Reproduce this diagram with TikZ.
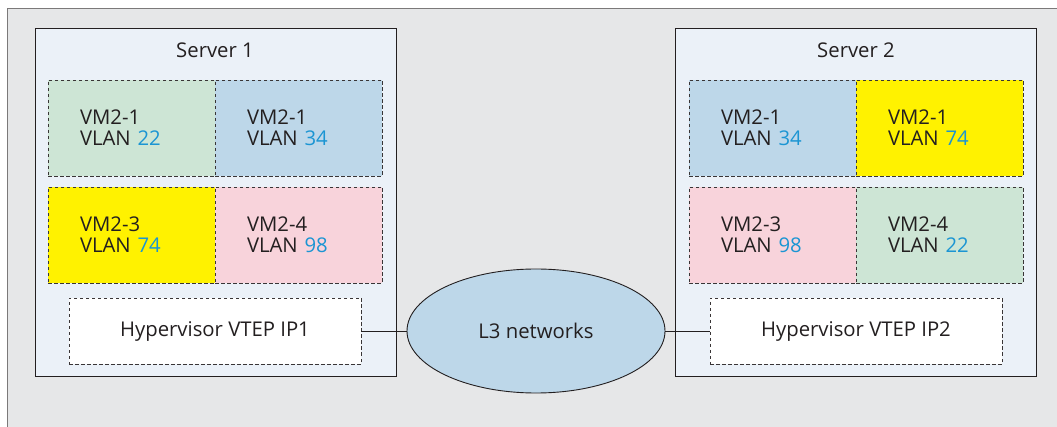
\documentclass[tikz,border=0pt]{standalone}
\usepackage{fontspec}
\setmainfont{Open Sans}
\usepackage{tikz}
\usetikzlibrary{positioning, shapes.geometric}
\definecolor{bggray}{HTML}{E6E7E8}
\definecolor{srvfill}{HTML}{EBF1F8}
\definecolor{vmgreen}{HTML}{CDE5D5}
\definecolor{vmblue}{HTML}{BDD7E9}
\definecolor{vmyellow}{HTML}{FFF200}
\definecolor{vmpink}{HTML}{F8D3DB}
\definecolor{numblue}{HTML}{1B95D3}
\definecolor{inkgray}{HTML}{231F20}
\newcommand{\vlan}[2]{#1\\VLAN \textcolor{numblue}{#2}}
\tikzset{
  srvbox/.style={draw=inkgray, line width=0.9pt, fill=srvfill, minimum width=361pt, minimum height=348pt, inner sep=0pt},
  vmbox/.style={draw=inkgray!90, line width=0.8pt, dash pattern=on 3.5pt off 2.5pt, minimum width=167pt, minimum height=96pt,
    text width=103pt, inner xsep=32pt, inner ysep=0pt, align=left},
  hvbox/.style={draw=inkgray!90, line width=0.8pt, fill=white, dash pattern=on 3.5pt off 2.5pt, minimum width=292pt, minimum height=66pt, inner sep=0pt},
}

\begin{document}
\begin{tikzpicture}[x=1pt, y=-1pt, font=\fontsize{20.3}{21}\selectfont, text=inkgray]
\useasboundingbox (0,0) rectangle (1057,427);
\clip (0,0) rectangle (1057,427);
\draw[fill=bggray, draw=inkgray!60, line width=0.9pt] (7,8) rectangle (1070,440);

% server 1
\node[srvbox] (srvA) at (215.5,202) {};
\node (srvAname) at (215,50) {Server 1};
\node[vmbox, fill=vmgreen] (vmAa) at (131.5,128) {\vlan{VM2-1}{22}};
\node[vmbox, fill=vmblue] (vmAb) at (298.5,128) {\vlan{VM2-1}{34}};
\node[vmbox, fill=vmyellow] (vmAc) at (131.5,235) {\vlan{VM2-3}{74}};
\node[vmbox, fill=vmpink] (vmAd) at (298.5,235) {\vlan{VM2-4}{98}};
\node[hvbox] (hvA) at (215,331) {Hypervisor VTEP IP1};

% server 2
\node[srvbox] (srvB) at (856,202) {};
\node (srvBname) at (856,50) {Server 2};
\node[vmbox, fill=vmblue] (vmBa) at (772.5,128) {\vlan{VM2-1}{34}};
\node[vmbox, fill=vmyellow] (vmBb) at (939.5,128) {\vlan{VM2-1}{74}};
\node[vmbox, fill=vmpink] (vmBc) at (772.5,235) {\vlan{VM2-3}{98}};
\node[vmbox, fill=vmgreen] (vmBd) at (939.5,235) {\vlan{VM2-4}{22}};
\node[hvbox] (hvB) at (856,331) {Hypervisor VTEP IP2};

% network
\node[ellipse, draw=inkgray, line width=0.9pt, fill=vmblue, minimum width=258pt, minimum height=124pt, inner sep=0pt] (l3) at (536,331) {L3 networks};
\draw[inkgray, line width=0.8pt] (hvA.east) -- (l3.west);
\draw[inkgray, line width=0.8pt] (l3.east) -- (hvB.west);
\end{tikzpicture}
\end{document}
